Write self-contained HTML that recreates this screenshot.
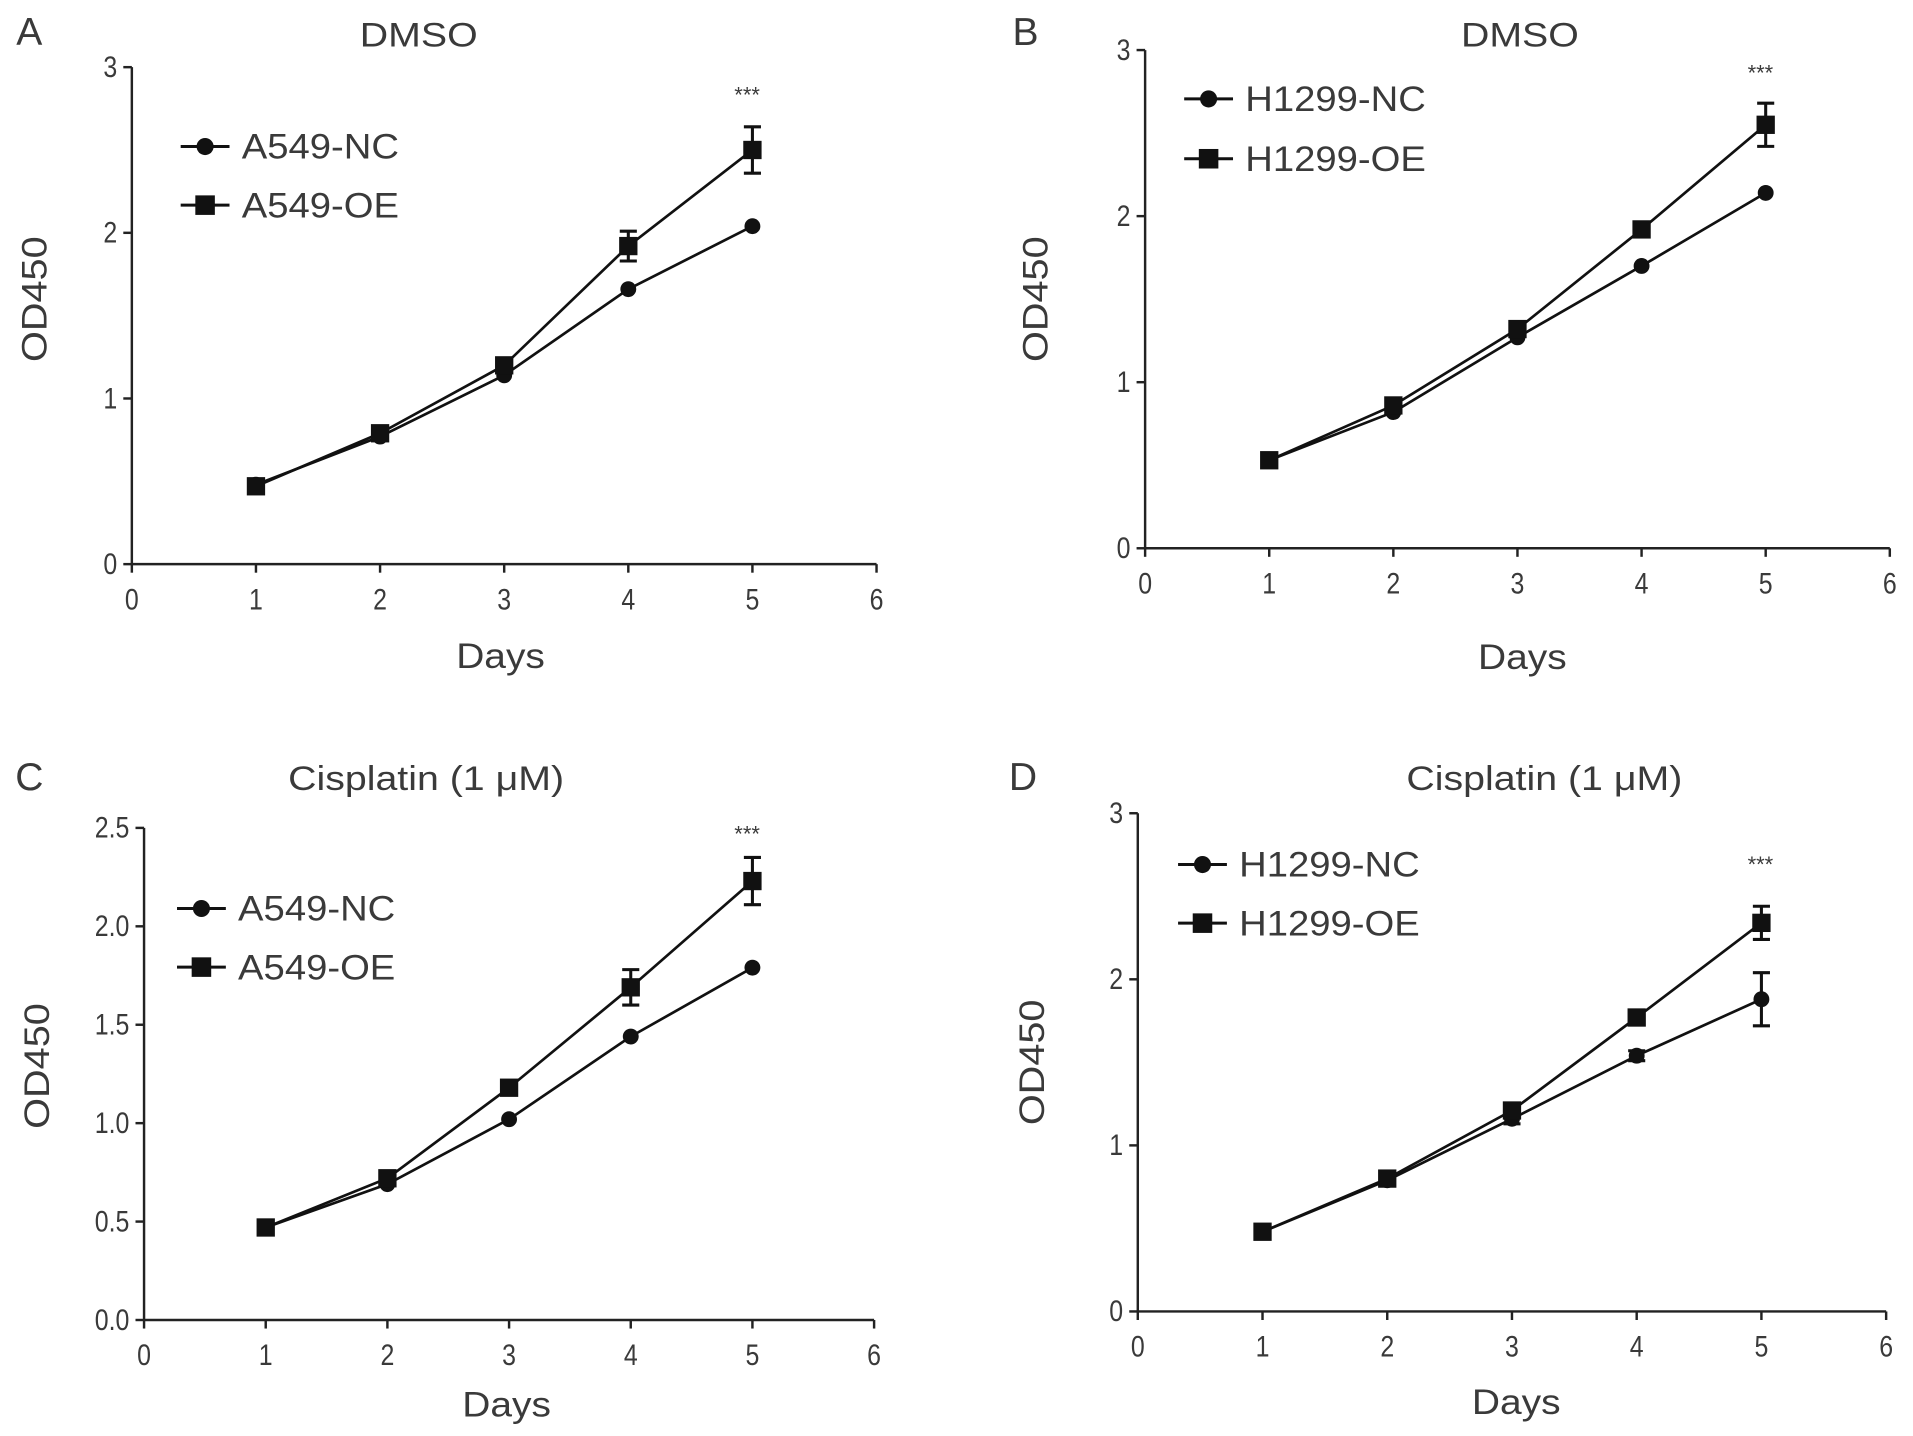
<!DOCTYPE html>
<html><head><meta charset="utf-8"><style>
html,body{margin:0;padding:0;background:#fff}
svg{display:block}
text{font-family:"Liberation Sans",sans-serif;fill:#3a3a3a}
</style></head><body>
<svg id="fig" width="1913" height="1436" viewBox="0 0 1567 1176" preserveAspectRatio="none" xmlns="http://www.w3.org/2000/svg"></svg>
<script>
const panelLetters = ["A","B","C","D"];
const panelTitles = ["DMSO","DMSO","Cisplatin (1 μM)","Cisplatin (1 μM)"];
const xTicks = [0,1,2,3,4,5,6];
const days = [1,2,3,4,5];
const yTicksA = ["0","1","2","3"];
const yTicksC = ["0.0","0.5","1.0","1.5","2.0","2.5"];
const ncNames = ["A549-NC","H1299-NC","A549-NC","H1299-NC"];
const oeNames = ["A549-OE","H1299-OE","A549-OE","H1299-OE"];
const ncA = [0.48,0.77,1.14,1.66,2.04];
const oeA = [0.47,0.79,1.20,1.92,2.50];
const oeAErr = [0.02,0.03,0.04,0.09,0.14];
const ncB = [0.53,0.82,1.27,1.70,2.14];
const oeB = [0.53,0.86,1.32,1.92,2.55];
const oeBErr = [0.02,0.03,0.03,0.04,0.13];
const ncC = [0.47,0.69,1.02,1.44,1.79];
const oeC = [0.47,0.72,1.18,1.69,2.23];
const oeCErr = [0.02,0.03,0.03,0.09,0.12];
const ncD = [0.48,0.79,1.16,1.54,1.88];
const ncDErr = [0.02,0.02,0.03,0.03,0.16];
const oeD = [0.48,0.80,1.21,1.77,2.34];
const oeDErr = [0.02,0.03,0.03,0.03,0.10];

const NS="http://www.w3.org/2000/svg";
const svg=document.getElementById('fig');
function el(tag,attrs,parent){const e=document.createElementNS(NS,tag);for(const k in attrs)e.setAttribute(k,attrs[k]);(parent||svg).appendChild(e);return e;}
function txt(s,x,y,size,anchor,parent,sx){
 const t=el('text',{x:0,y:0,'font-size':size,'text-anchor':anchor||'middle'},parent);
 t.setAttribute('transform','translate('+x+','+y+') scale('+(sx||1)+',1)');
 t.textContent=s;return t;}

const panels=[
 {x0:108,x6:718,y0:462,yT:55,yMax:3,yt:yTicksA,nc:ncA,ncE:null,oe:oeA,oeE:oeAErr,lx:24,ly:37,tx:343,ty:38,legY:[120,168],legX:168,star:[612,84],days:[410,547],ylab:[38,245]},
 {x0:938,x6:1548,y0:449,yT:41,yMax:3,yt:yTicksA,nc:ncB,ncE:null,oe:oeB,oeE:oeBErr,lx:840,ly:37,tx:1245,ty:38,legY:[81,130],legX:990,star:[1442,66],days:[1247,548],ylab:[858,245]},
 {x0:118,x6:716,y0:1081,yT:678,yMax:2.5,yt:yTicksC,nc:ncC,ncE:null,oe:oeC,oeE:oeCErr,lx:24,ly:647,tx:349,ty:647,legY:[744,792],legX:165,star:[612,689],days:[415,1160],ylab:[40,873]},
 {x0:932,x6:1545,y0:1074,yT:666,yMax:3,yt:yTicksA,nc:ncD,ncE:ncDErr,oe:oeD,oeE:oeDErr,lx:838,ly:647,tx:1265,ty:647,legY:[708,756],legX:985,star:[1442,714],days:[1242,1158],ylab:[855,870]}
];

panels.forEach((p,i)=>{
 const g=el('g',{});
 
 
 const X=v=>p.x0+(p.x6-p.x0)*v/6;
 const Y=v=>p.y0-(p.y0-p.yT)*v/p.yMax;
 const l=txt(panelLetters[i],p.lx,p.ly,32,'middle',g);
 
 
 const t=txt(panelTitles[i],p.tx,p.ty,28,'middle',g,1.15);
 
 
 const ax=el('g',{stroke:'#222','stroke-width':2,fill:'none'},g);
 
 
 el('line',{x1:p.x0,y1:p.y0,x2:p.x6,y2:p.y0},ax);
 el('line',{x1:p.x0,y1:p.y0,x2:p.x0,y2:p.yT},ax);
 xTicks.forEach(v=>{
  el('line',{x1:X(v),y1:p.y0,x2:X(v),y2:p.y0+7},ax);
  const tt=txt(String(v),X(v),p.y0+37,24,'middle',g,0.85);
  
  
 });
 const step=p.yMax/(p.yt.length-1);
 p.yt.forEach((s,k)=>{
  const yy=Y(k*step);
  el('line',{x1:p.x0-7,y1:yy,x2:p.x0,y2:yy},ax);
  const tt=txt(s,p.x0-12,yy+8,24,'end',g,0.85);
  
  
 });
 const dl=txt('Days',p.days[0],p.days[1],29,'middle',g,1.1);
 
 
 const yl=el('text',{x:0,y:0,'font-size':29,'text-anchor':'middle'},g);
 yl.textContent='OD450';
 yl.setAttribute('transform','translate('+p.ylab[0]+','+p.ylab[1]+') rotate(-90) scale(1.12,1)');
 
 
 const st=txt('***',p.star[0],p.star[1],18,'middle',g);
 
 
 function series(vals,errs,shape,name){
  const sg=el('g',{},g);
  
  
  el('polyline',{points:vals.map((v,k)=>X(days[k])+','+Y(v)).join(' '),fill:'none',stroke:'#111','stroke-width':2.2},sg);
  vals.forEach((v,k)=>{
   const cx=X(days[k]),cy=Y(v);
   if(errs){const e=errs[k];
    el('path',{d:`M${cx},${Y(v+e)}V${Y(v-e)}M${cx-7},${Y(v+e)}H${cx+7}M${cx-7},${Y(v-e)}H${cx+7}`,stroke:'#111','stroke-width':2.5,fill:'none'},sg);}
   let m;
   if(shape==='c') m=el('circle',{cx:cx,cy:cy,r:6.5,fill:'#111'},sg);
   else m=el('rect',{x:cx-7.5,y:cy-7.5,width:15,height:15,fill:'#111'},sg);
   
   
  });
 }
 series(p.nc,p.ncE,'c','nc-series');
 series(p.oe,p.oeE,'s','oe-series');
 [[ncNames[i],'c'],[oeNames[i],'s']].forEach((e,k)=>{
  const lg=el('g',{},g);
  
  
  const ly=p.legY[k];
  el('line',{x1:p.legX-20,y1:ly,x2:p.legX+20,y2:ly,stroke:'#111','stroke-width':2.5},lg);
  if(e[1]==='c') el('circle',{cx:p.legX,cy:ly,r:7,fill:'#111'},lg);
  else el('rect',{x:p.legX-8,y:ly-8,width:16,height:16,fill:'#111'},lg);
  txt(e[0],p.legX+30,ly+10,29,'start',lg,1.08);
 });
});
</script>
</body></html>
